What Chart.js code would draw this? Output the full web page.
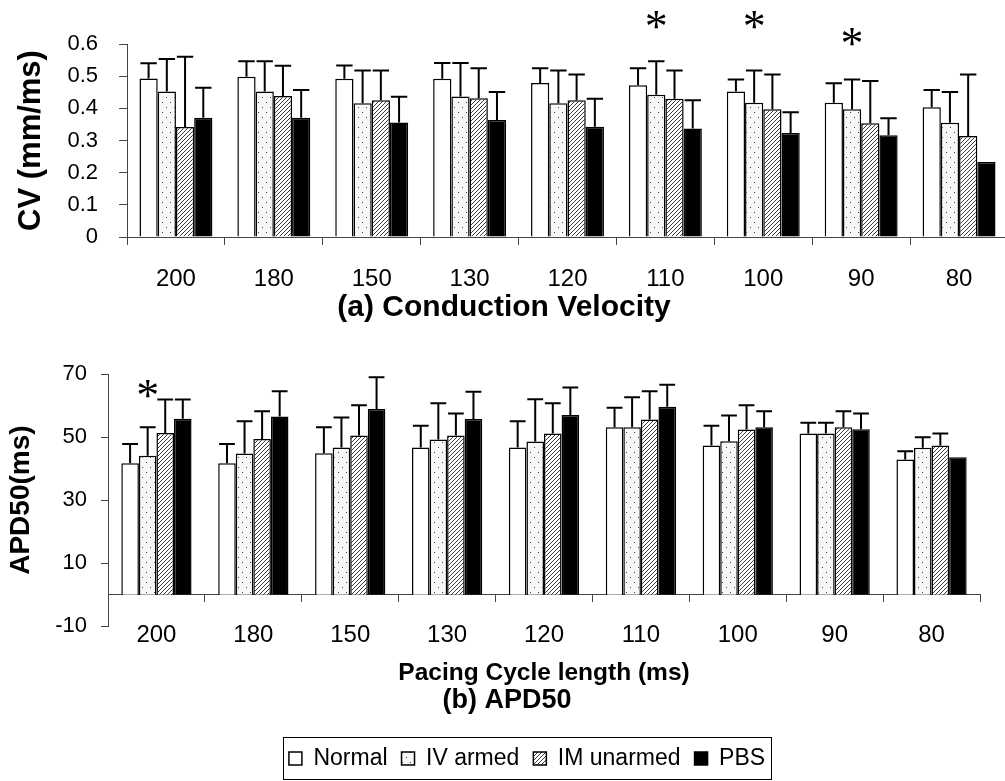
<!DOCTYPE html>
<html>
<head>
<meta charset="utf-8">
<title>CV and APD50</title>
<script src="https://cdn.jsdelivr.net/npm/chart.js@4.4.1/dist/chart.umd.min.js"></script>
<style>
  html, body { margin: 0; padding: 0; background: #fff; overflow: hidden; }
  #cvChart { position: absolute; left: 0; top: 0; }
  #apdChart { position: absolute; left: 0; top: 330px; }
</style>
</head>
<body>
<canvas id="cvChart" width="1020" height="330"></canvas>
<canvas id="apdChart" width="1005" height="451"></canvas>
<script>
// Pacing cycle lengths (ms)
const cycleLengths = ["200", "180", "150", "130", "120", "110", "100", "90", "80"];
const groups = ["Normal", "IV armed", "IM unarmed", "PBS"];

// (a) conduction velocity, mm/ms (mean and SD)
const cvNormal = [0.493, 0.498, 0.492, 0.492, 0.479, 0.472, 0.452, 0.417, 0.403];
const cvIvArmed = [0.452, 0.452, 0.416, 0.437, 0.416, 0.442, 0.417, 0.397, 0.355];
const cvImUnarmed = [0.342, 0.438, 0.425, 0.431, 0.425, 0.430, 0.397, 0.354, 0.314];
const cvPbs = [0.371, 0.371, 0.356, 0.364, 0.343, 0.337, 0.323, 0.316, 0.233];
const cvNormalSd = [0.047, 0.048, 0.041, 0.049, 0.046, 0.053, 0.038, 0.061, 0.054];
const cvIvArmedSd = [0.101, 0.094, 0.102, 0.104, 0.102, 0.104, 0.101, 0.093, 0.096];
const cvImUnarmedSd = [0.218, 0.094, 0.093, 0.094, 0.080, 0.088, 0.108, 0.131, 0.191];
const cvPbsSd = [0.093, 0.086, 0.080, 0.087, 0.087, 0.088, 0.065, 0.053, 0];
// level of the significance stars (IV armed)
const cvStars = [null, null, null, null, null, 0.675, 0.675, 0.623, null];
const cvTicks = [0, 0.1, 0.2, 0.3, 0.4, 0.5, 0.6];

// (b) APD50, ms (mean and SD)
const apdNormal = [41.7, 41.7, 44.9, 46.7, 46.7, 53.1, 47.3, 51.1, 42.9];
const apdIvArmed = [44.1, 44.8, 46.7, 49.2, 48.6, 53.1, 48.7, 51.1, 46.6];
const apdImUnarmed = [51.3, 49.4, 50.5, 50.5, 51.1, 55.6, 52.4, 53.1, 47.3];
const apdPbs = [55.8, 56.5, 58.9, 55.7, 57.0, 59.6, 53.1, 52.5, 43.6];
const apdNormalSd = [6.1, 6.1, 8.2, 6.9, 8.3, 6.2, 6.3, 3.4, 2.6];
const apdIvArmedSd = [9.0, 10.2, 9.5, 11.5, 13.4, 9.5, 8.1, 3.4, 3.3];
const apdImUnarmedSd = [10.6, 8.8, 9.6, 7.0, 9.6, 8.9, 7.7, 5.1, 3.8];
const apdPbsSd = [6.1, 8.0, 10.1, 8.7, 8.7, 7.0, 5.1, 5.0, 0];
const apdStars = [65.2, null, null, null, null, null, null, null, null];
const apdTicks = [-10, 10, 30, 50, 70];

Chart.defaults.font.family = '"Liberation Sans", Arial, sans-serif';
Chart.defaults.color = "#000";

// fill patterns
function dotPattern() {
  const c = document.createElement("canvas");
  c.width = 8;
  c.height = 10;
  const g = c.getContext("2d");
  g.fillStyle = "#f7f7f7";
  g.fillRect(0, 0, 8, 10);
  g.fillStyle = "#444";
  g.fillRect(2, 2, 1, 1);
  g.fillRect(6, 7, 1, 1);
  return g.createPattern(c, "repeat");
}

function hatchPattern() {
  const c = document.createElement("canvas");
  c.width = 4;
  c.height = 4;
  const g = c.getContext("2d");
  g.fillStyle = "#fff";
  g.fillRect(0, 0, 4, 4);
  g.strokeStyle = "#3a3a3a";
  g.lineWidth = 1;
  g.beginPath();
  g.moveTo(0, 4); g.lineTo(4, 0);
  g.moveTo(-1, 1); g.lineTo(1, -1);
  g.moveTo(3, 5); g.lineTo(5, 3);
  g.stroke();
  return g.createPattern(c, "repeat");
}

const fills = ["#fff", dotPattern(), hatchPattern(), "#000"];

function makeDatasets(means, sds, stars, pct) {
  return means.map((m, i) => ({
    label: groups[i],
    data: m,
    errors: sds[i],
    stars: i === 1 ? stars : null,
    backgroundColor: fills[i],
    borderColor: "#000",
    borderWidth: 1.5,
    barPercentage: 1,
    categoryPercentage: pct,
  }));
}

// SD whiskers (upper only) and significance stars
const errorBars = {
  id: "errorBars",
  afterDatasetsDraw(chart) {
    const ctx = chart.ctx;
    const y = chart.scales.y;
    ctx.save();
    ctx.strokeStyle = "#000";
    ctx.lineWidth = 2;
    chart.data.datasets.forEach((ds, i) => {
      chart.getDatasetMeta(i).data.forEach((bar, j) => {
        const sd = ds.errors[j];
        if (sd) {
          const top = y.getPixelForValue(ds.data[j] + sd);
          const half = bar.width * 0.45;
          ctx.beginPath();
          ctx.moveTo(bar.x, bar.y);
          ctx.lineTo(bar.x, top);
          ctx.moveTo(bar.x - half, top);
          ctx.lineTo(bar.x + half, top);
          ctx.stroke();
        }
        if (ds.stars && ds.stars[j] != null) {
          ctx.font = '46px "Liberation Serif", serif';
          ctx.fillStyle = "#000";
          ctx.textAlign = "center";
          ctx.textBaseline = "alphabetic";
          const m = ctx.measureText("*");
          const yc = y.getPixelForValue(ds.stars[j]);
          ctx.fillText("*", bar.x, yc + (m.actualBoundingBoxAscent - m.actualBoundingBoxDescent) / 2);
        }
      });
    });
    ctx.restore();
  },
};

// nudge the bottom title and legend sideways, box round the legend
const legendFrame = {
  id: "legendFrame",
  afterLayout(chart) {
    chart.legend.left -= 17;
    chart.legend.right -= 17;
    chart.titleBlock.left += 17;
    chart.titleBlock.right += 17;
  },
  afterDraw(chart) {
    const lg = chart.legend;
    const pad = lg.options.labels.padding;
    const lw = lg.lineWidths[0];
    const x0 = (lg.left + pad + lg.right - lw) / 2;
    const yc = lg.top + pad + lg.options.labels.font.size / 2;
    const ctx = chart.ctx;
    ctx.save();
    ctx.strokeStyle = "#000";
    ctx.lineWidth = 1;
    ctx.strokeRect(Math.round(x0 - 6) + 0.5, Math.round(yc - 21) + 0.5, Math.round(lw - pad + 12), 42);
    ctx.restore();
  },
};

const axisColor = "#444";

// (a) Conduction Velocity
new Chart(document.getElementById("cvChart"), {
  type: "bar",
  data: {
    labels: cycleLengths,
    datasets: makeDatasets(
      [cvNormal, cvIvArmed, cvImUnarmed, cvPbs],
      [cvNormalSd, cvIvArmedSd, cvImUnarmedSd, cvPbsSd],
      cvStars,
      0.745
    ),
  },
  options: {
    responsive: false,
    animation: false,
    layout: { padding: { top: 44, left: 0, right: 12, bottom: 0 } },
    plugins: {
      legend: { display: false },
      tooltip: { enabled: false },
      title: {
        display: true,
        position: "bottom",
        text: "(a) Conduction Velocity",
        font: { size: 30, weight: "bold" },
        padding: { top: 0, bottom: 4 },
        color: "#000",
      },
    },
    scales: {
      x: {
        afterFit: (s) => { s.height = 53; },
        grid: { drawOnChartArea: false, tickLength: 8, color: axisColor, offset: true },
        border: { color: axisColor },
        ticks: { font: { size: 24 }, padding: 20, color: "#000" },
      },
      y: {
        min: 0,
        max: 0.6,
        afterBuildTicks: (s) => { s.ticks = cvTicks.map((v) => ({ value: v })); },
        afterFit: (s) => { s.width = 127; },
        grid: { drawOnChartArea: false, tickLength: 8, color: axisColor },
        border: { color: axisColor },
        ticks: { font: { size: 22 }, padding: 21, color: "#000", callback: (v) => String(v) },
        title: {
          display: true,
          text: "CV (mm/ms)",
          font: { size: 31, weight: "bold" },
          padding: { top: 13, bottom: 0 },
          color: "#000",
        },
      },
    },
  },
  plugins: [errorBars],
});

// (b) APD50
new Chart(document.getElementById("apdChart"), {
  type: "bar",
  data: {
    labels: cycleLengths,
    datasets: makeDatasets(
      [apdNormal, apdIvArmed, apdImUnarmed, apdPbs],
      [apdNormalSd, apdIvArmedSd, apdImUnarmedSd, apdPbsSd],
      apdStars,
      0.725
    ),
  },
  options: {
    responsive: false,
    animation: false,
    layout: { padding: { top: 44, left: 0, right: 25, bottom: 1 } },
    plugins: {
      tooltip: { enabled: false },
      subtitle: {
        display: true,
        position: "bottom",
        fullSize: false,
        text: "Pacing Cycle length (ms)",
        font: { size: 24.5, weight: "bold" },
        padding: { top: 32, bottom: 0 },
        color: "#000",
        weight: 1500,
      },
      title: {
        display: true,
        position: "bottom",
        text: "(b) APD50",
        font: { size: 27, weight: "bold" },
        padding: { top: -3, bottom: 16 },
        color: "#000",
        weight: 2000,
      },
      legend: {
        position: "bottom",
        fullSize: false,
        weight: 3000,
        labels: {
          boxWidth: 13,
          boxHeight: 13,
          padding: 14,
          font: { size: 23 },
          color: "#000",
        },
      },
    },
    scales: {
      x: {
        position: { y: 0 },
        afterFit: (s) => { s.height = 0; },
        grid: { drawOnChartArea: false, tickLength: 7, color: axisColor, offset: true },
        border: { color: axisColor },
        ticks: { font: { size: 24 }, padding: 19, color: "#000" },
      },
      y: {
        min: -10,
        max: 70,
        afterBuildTicks: (s) => { s.ticks = apdTicks.map((v) => ({ value: v })); },
        afterFit: (s) => { s.width = 108; },
        grid: { drawOnChartArea: false, tickLength: 7, color: axisColor },
        border: { color: axisColor },
        ticks: { font: { size: 22 }, padding: 14, color: "#000" },
        title: {
          display: true,
          text: "APD50(ms)",
          font: { size: 28, weight: "bold" },
          padding: { top: 4, bottom: 0 },
          color: "#000",
        },
      },
    },
  },
  plugins: [errorBars, legendFrame],
});
</script>
</body>
</html>
